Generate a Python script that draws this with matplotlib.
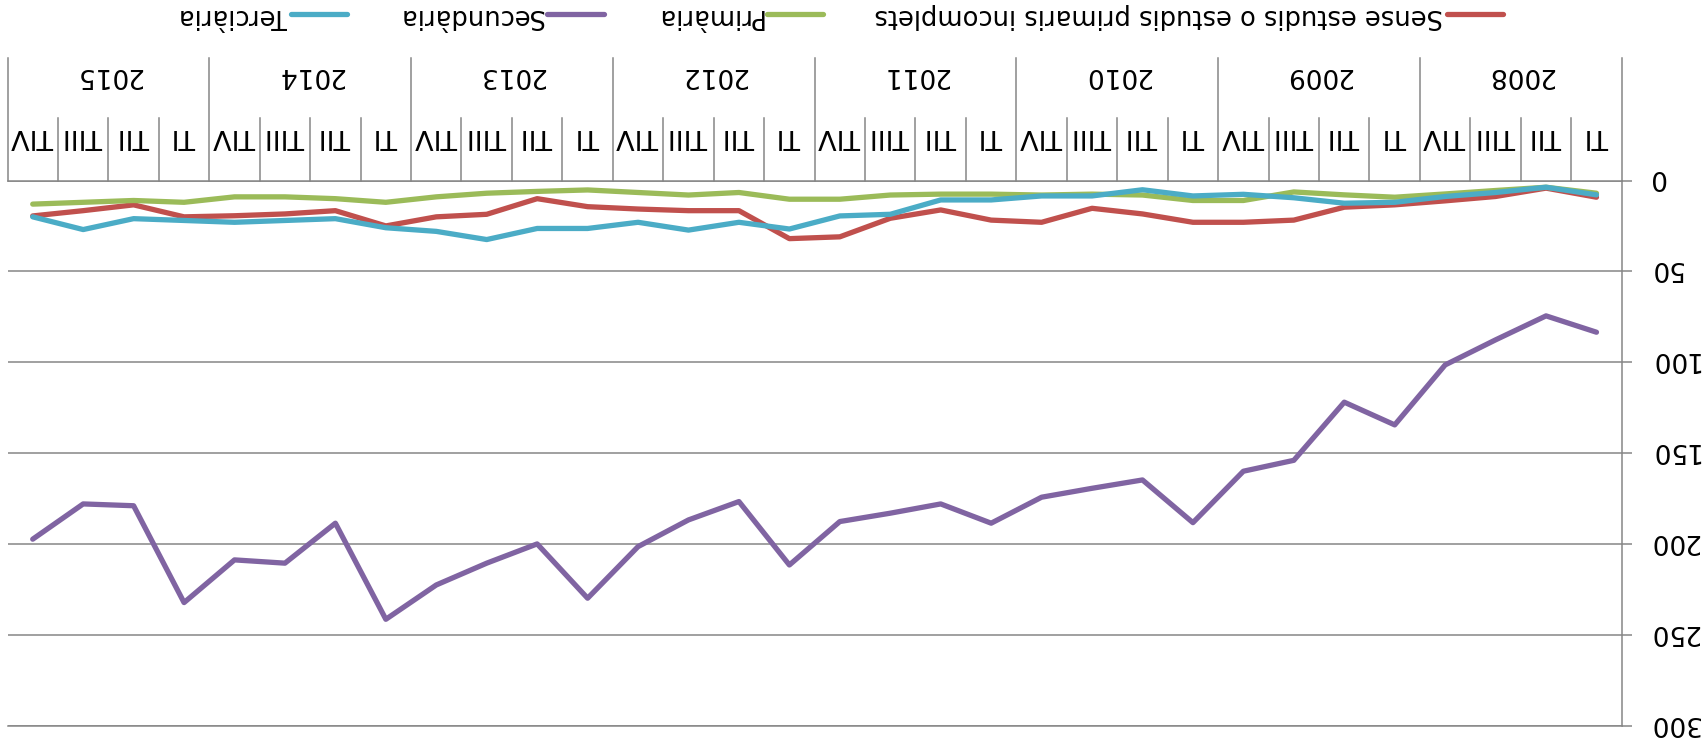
import numpy as np
import matplotlib.pyplot as plt
from matplotlib.transforms import offset_copy

# Quarterly data 2008-2015 (the source chart is drawn rotated 180 degrees)
years = ['2008', '2009', '2010', '2011', '2012', '2013', '2014', '2015']
quarters = ['TI', 'TII', 'TIII', 'TIV']

sense_estudis = [9.2, 4.2, 8.8, 11.2, 13.4, 14.7, 21.8, 23.0,
                 23.0, 18.4, 15.3, 23.0, 21.8, 16.2, 20.8, 31.0,
                 32.0, 16.6, 16.6, 15.7, 14.4, 10.0, 18.6, 20.0,
                 25.0, 16.6, 18.4, 19.4, 20.0, 13.4, 16.6, 19.5]
primaria = [7.0, 3.7, 5.5, 7.4, 9.2, 7.9, 6.3, 11.0,
            11.0, 8.0, 7.5, 8.0, 7.5, 7.5, 8.0, 10.3,
            10.3, 6.6, 8.0, 6.6, 5.2, 6.0, 7.0, 9.0,
            12.0, 10.0, 9.0, 9.0, 12.0, 11.0, 12.0, 13.0]
secundaria = [83.5, 74.5, 87.7, 101.5, 134.5, 122.0, 154.0, 160.0,
              188.3, 164.8, 169.4, 174.3, 188.6, 178.0, 183.1, 187.7,
              211.6, 176.7, 186.8, 201.5, 229.9, 200.0, 210.6, 222.6,
              241.5, 188.6, 210.6, 208.8, 232.3, 179.0, 178.0, 197.4]
terciaria = [7.9, 3.7, 6.6, 8.8, 12.0, 12.5, 9.5, 7.6,
             8.5, 5.1, 8.5, 8.5, 10.7, 10.7, 18.6, 19.5,
             26.7, 23.0, 27.3, 23.0, 26.4, 26.4, 32.5, 28.0,
             26.0, 21.0, 22.0, 23.0, 22.0, 21.0, 27.0, 20.0]

series_names = ['Sense estudis o estudis primaris incomplets', 'Primària',
                'Secundària', 'Terciària']
series_colors = ['#C0504D', '#9BBB59', '#8064A2', '#4BACC6']
y_ticks = [0, 50, 100, 150, 200, 250, 300]

grey = '#868686'
W, H = 1704, 747
n = len(years) * len(quarters)
x = np.arange(n)

fig = plt.figure(figsize=(W / 100, H / 100), dpi=100)
ax = fig.add_axes([7.5 / W, 1 - 725.6 / H, (1621.7 - 7.5) / W, (725.6 - 180.5) / H])

for vals, name, color in zip([sense_estudis, primaria, secundaria, terciaria],
                             series_names, series_colors):
    ax.plot(x, vals, color=color, lw=3.8, label=name,
            solid_capstyle='round', solid_joinstyle='round')

# both axes reversed -> upside down chart
ax.set_xlim(n - 0.5, -0.5)
ax.set_ylim(300, 0)

ax.set_xticks([])
ax.yaxis.tick_right()
ax.set_yticks(y_ticks)
ax.set_yticklabels([])
ax.tick_params(axis='y', length=7.2, width=1.1, color=grey)
ax.grid(axis='y', color=grey, lw=1.1)
ax.set_axisbelow(True)

# value labels, upside down, to the right of the axis
ylab_trans = offset_copy(ax.get_yaxis_transform(), fig=fig, x=27, y=3, units='dots')
for v in y_ticks:
    ax.text(1, v, str(v), transform=ylab_trans, rotation=180, ha='left', va='center',
            fontsize=19)

ax.spines['left'].set_visible(False)
for side in ['top', 'right', 'bottom']:
    ax.spines[side].set_color(grey)
    ax.spines[side].set_linewidth(1.1)

# category axis (quarters and years), now above the plot
trans = ax.get_xaxis_transform()
axes_h = 725.6 - 180.5
quarter_top = 1 + (180.5 - 118) / axes_h
year_top = 1 + (180.5 - 58) / axes_h
quarter_y = 1 + (180.5 - 136) / axes_h
year_y = 1 + (180.5 - 75) / axes_h

for b in np.arange(-0.5, n, 1.0):
    top = year_top if int(b + 0.5) % len(quarters) == 0 else quarter_top
    ax.plot([b, b], [1, top], transform=trans, color=grey, lw=1.1, clip_on=False)

for i in range(n):
    ax.text(i, quarter_y, quarters[i % len(quarters)], transform=trans, rotation=180,
            ha='center', va='center', fontsize=19.5)

for k, yr in enumerate(years):
    ax.text(k * len(quarters) + 1.5, year_y, yr, transform=trans, rotation=180,
            ha='center', va='center', fontsize=19)

# legend (reversed order, handle after the text)
handles, labels = ax.get_legend_handles_labels()
leg = fig.legend(handles[::-1], labels[::-1], loc='center',
                 bbox_to_anchor=(841 / W, 1 - 16 / H), ncol=4, frameon=False,
                 markerfirst=False, fontsize=18.5, handlelength=2.2,
                 handletextpad=0.15, columnspacing=2.0)
for t in leg.get_texts():
    t.set_rotation(180)

fig.savefig('out.png', dpi=100)
